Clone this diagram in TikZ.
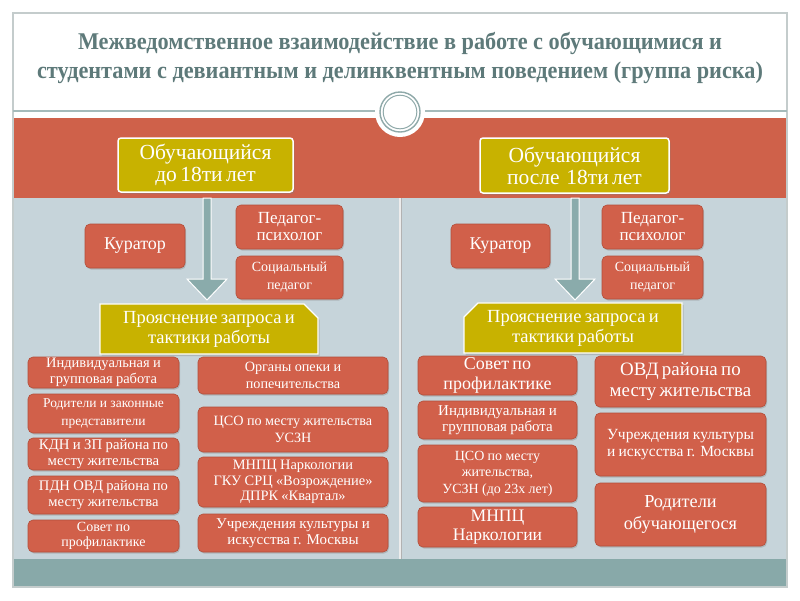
\documentclass[tikz,border=0pt]{standalone}
\usepackage{fontspec}
\setmainfont{Liberation Serif}
\usetikzlibrary{shadows,calc,shapes.misc}
\definecolor{bandred}{HTML}{CF614A}
\definecolor{boxred}{HTML}{D1604A}
\definecolor{boxedge}{HTML}{B24E3A}
\definecolor{gold}{HTML}{C8B200}
\definecolor{bgblue}{HTML}{C6D4DA}
\definecolor{tealstrip}{HTML}{88A9A9}
\definecolor{arrteal}{HTML}{8AABAB}
\definecolor{titlecol}{HTML}{5E7A7A}
\definecolor{ringcol}{HTML}{8FA9A9}
\definecolor{framecol}{HTML}{C4CCCC}
\newcommand\setfs[2]{\fontsize{#1}{#2}\selectfont}
\newcommand\mybox[7]{%
  \pgfmathsetmacro\bxw{#4-#2}%
  \pgfmathsetmacro\bxh{#5-#3}%
  \pgfmathsetmacro\bxt{#4-#2-4}%
  \node[#6, minimum width=\bxw pt, minimum height=\bxh pt, text width=\bxt pt]
    (#1) at ({(#2+#4)/2},{(#3+#5)/2}) {#7\par};}
\tikzset{
  redbox/.style={draw=boxedge, line width=0.6pt, fill=boxred, rounded corners=5pt,
    text=white, align=center, inner sep=0pt,
    drop shadow={opacity=0.35, shadow xshift=1pt, shadow yshift=-1.5pt}},
  goldbox/.style={draw=white, line width=1.5pt, fill=gold, rounded corners=3pt,
    text=white, align=center, inner sep=0pt,
    drop shadow={opacity=0.35, shadow xshift=1.5pt, shadow yshift=-2pt}},
  snipbox/.style={draw=white, line width=1.2pt, fill=gold, chamfered rectangle,
    chamfered rectangle xsep=7pt, chamfered rectangle ysep=7pt,
    chamfered rectangle corners=#1, text=white, align=center, inner sep=0pt,
    drop shadow={opacity=0.35, shadow xshift=1.5pt, shadow yshift=-2pt}},
  bigarrow/.style={fill=arrteal, draw=white, line width=1pt, line join=miter},
  titletext/.style={text=titlecol, inner sep=0pt, font=\bfseries}
}
\begin{document}
\begin{tikzpicture}[x=1pt,y=-1pt]
\useasboundingbox (0,0) rectangle (800,600);
\fill[white] (0,0) rectangle (800,600);
% frame and panels
\fill[bgblue] (13,198) rectangle (787,559);
\fill[tealstrip] (13,559) rectangle (787,586);
\fill[bandred] (13,118) rectangle (787,198);
\draw[framecol, line width=1.2pt] (13,13) rectangle (787,587);
\draw[white!85!gray, line width=1.4pt] (400,198) -- (400,559);
\draw[gray!60, line width=0.4pt] (401.2,198) -- (401.2,559);
% header line and ornament
\draw[ringcol!80!white, line width=1.6pt] (13,111) -- (787,111);
\fill[white] (400,112) circle (25);
\draw[ringcol, line width=1.4pt] (400,112) circle (20);
\draw[ringcol, line width=1pt] (400,112) circle (16.8);
% title
\node[titletext] (t1) at (400,43) {\resizebox{644pt}{\height}{\setfs{24}{24}Межведомственное взаимодействие в работе с обучающимися и}};
\node[titletext] (t2) at (400,73) {\resizebox{726pt}{\height}{\setfs{24}{24}студентами с девиантным и делинквентным поведением (группа риска)}};
% arrows
\coordinate (aLs) at (207,198); \coordinate (aLe) at (207,300);
\coordinate (aRs) at (575,198); \coordinate (aRe) at (575,300);
\draw[bigarrow] ($(aLs)+(-4,0)$) -- ($(aLe)+(-4,-21)$) -- ($(aLe)+(-20,-21)$) -- (aLe)
  -- ($(aLe)+(20,-21)$) -- ($(aLe)+(4,-21)$) -- ($(aLs)+(4,0)$) -- cycle;
\draw[bigarrow] ($(aRs)+(-4,0)$) -- ($(aRe)+(-4,-21)$) -- ($(aRe)+(-20,-21)$) -- (aRe)
  -- ($(aRe)+(20,-21)$) -- ($(aRe)+(4,-21)$) -- ($(aRs)+(4,0)$) -- cycle;
% left column
\mybox{yL}{118}{138}{293}{192}{goldbox}{\setfs{21.5}{22}Обучающийся\\до 18ти лет}
\mybox{kurL}{85}{224}{185}{268}{redbox}{\setfs{18}{22}Куратор}
\mybox{pedL}{236}{205}{343}{249}{redbox}{\setfs{17}{17}Педагог-\\психолог}
\mybox{socL}{236}{256}{343}{299}{redbox}{\setfs{14}{18}Социальный\\педагог}
\mybox{prL}{105}{306}{313}{352}{snipbox=north east}{\setfs{18.5}{20}Прояснение запроса и\\тактики работы}
\mybox{L1}{28}{357}{179}{388}{redbox}{\setfs{14.5}{16}Индивидуальная и\\групповая работа}
\mybox{L2}{28}{394}{179}{433}{redbox}{\setfs{13.5}{18}Родители и законные\\представители}
\mybox{L3}{28}{438}{179}{470}{redbox}{\setfs{14.8}{15.5}КДН и ЗП района по\\месту жительства}
\mybox{L4}{28}{476}{179}{514}{redbox}{\setfs{14.6}{16.5}ПДН ОВД района по\\месту жительства}
\mybox{L5}{28}{520}{179}{552}{redbox}{\setfs{14}{15.5}Совет по\\профилактике}
\mybox{R1}{198}{357}{388}{394}{redbox}{\setfs{14.2}{16.5}Органы опеки и\\попечительства}
\mybox{R2}{198}{407}{388}{452}{redbox}{\setfs{14.2}{17}ЦСО по месту жительства\\УСЗН}
\mybox{R3}{198}{457}{388}{507}{redbox}{\setfs{14.4}{15.5}МНПЦ Наркологии\\ГКУ СРЦ «Возрождение»\\ДПРК «Квартал»}
\mybox{R4}{198}{514}{388}{552}{redbox}{\setfs{15}{16.5}Учреждения культуры и\\искусства г. Москвы}
% right column
\mybox{yR}{480}{138}{669}{193}{goldbox}{\setfs{21.5}{22}Обучающийся\\после~ 18ти лет}
\mybox{kurR}{451}{224}{550}{268}{redbox}{\setfs{18}{22}Куратор}
\mybox{pedR}{602}{205}{703}{249}{redbox}{\setfs{17}{17}Педагог-\\психолог}
\mybox{socR}{602}{256}{703}{299}{redbox}{\setfs{14}{18}Социальный\\педагог}
\mybox{prR}{469}{306}{677}{350}{snipbox=north west}{\setfs{18.5}{20}Прояснение запроса и\\тактики работы}
\mybox{RL1}{418}{356}{577}{395}{redbox}{\setfs{18}{20}Совет по\\профилактике}
\mybox{RL2}{418}{401}{577}{439}{redbox}{\setfs{15}{16.5}Индивидуальная и\\групповая работа}
\mybox{RL3}{418}{445}{577}{502}{redbox}{\setfs{14}{16.5}ЦСО по месту\\жительства,\\УСЗН (до 23х лет)}
\mybox{RL4}{418}{507}{577}{547}{redbox}{\setfs{17.6}{19}МНПЦ\\Наркологии}
\mybox{RR1}{595}{356}{766}{407}{redbox}{\setfs{18.9}{21}ОВД района по\\месту жительства}
\mybox{RR2}{595}{413}{766}{476}{redbox}{\setfs{15.5}{17}Учреждения культуры\\и искусства г. Москвы}
\mybox{RR3}{595}{483}{766}{546}{redbox}{\setfs{18.3}{22}Родители\\обучающегося}
\end{tikzpicture}
\end{document}
